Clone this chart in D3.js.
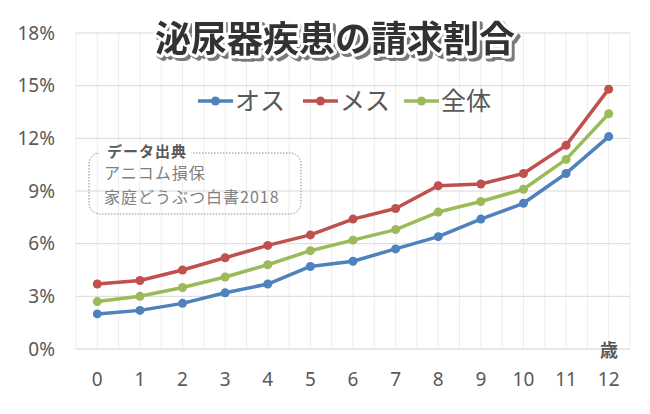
<!DOCTYPE html>
<html><head><meta charset="utf-8">
<script src="https://cdn.jsdelivr.net/npm/d3@7"></script>
<style>body{margin:0;background:#fff}svg{display:block}text{font-family:"Noto Sans CJK JP","Noto Sans",sans-serif}</style>
</head><body>
<svg id="c" width="650" height="414"></svg>
<script>
const ages = ["0","1","2","3","4","5","6","7","8","9","10","11","12"];
const male = [2.0,2.2,2.6,3.2,3.7,4.7,5.0,5.7,6.4,7.4,8.3,10.0,12.1];
const female = [3.7,3.9,4.5,5.2,5.9,6.5,7.4,8.0,9.3,9.4,10.0,11.6,14.8];
const total = [2.7,3.0,3.5,4.1,4.8,5.6,6.2,6.8,7.8,8.4,9.1,10.8,13.4];
const yTicks = [0,3,6,9,12,15,18];
const seriesNames = ["オス","メス","全体"];
const colors = ["#4f81bd","#c0504d","#9bbb59"];

const svg = d3.select("#c");
const defs = svg.append("defs");
const f = defs.append("filter").attr("id", "sh").attr("x", "-5%").attr("y", "-20%").attr("width", "115%").attr("height", "150%");
f.append("feDropShadow").attr("dx", 3).attr("dy", 3).attr("stdDeviation", 0.6)
  .attr("flood-color", "#7a7a7a").attr("flood-opacity", 1);

const L = 76, R = 630, T = 33, B = 349;
const x = d3.scaleBand().domain(ages).range([L, R]);
const y = d3.scaleLinear().domain([0, 18]).range([B, T]);
const step = x.step();

// vertical grid at half steps
const vg = d3.range(0, ages.length * 2 + 1).map(k => L + k * step / 2);
svg.append("g").selectAll("line").data(vg).join("line")
  .attr("x1", d => d).attr("x2", d => d).attr("y1", T).attr("y2", B)
  .attr("stroke", "#ededed").attr("stroke-width", 1);
// horizontal grid
svg.append("g").selectAll("line").data(yTicks).join("line")
  .attr("x1", L).attr("x2", R).attr("y1", d => y(d)).attr("y2", d => y(d))
  .attr("stroke", d => d === 0 ? "#d0d0d0" : "#d9d9d9").attr("stroke-width", 1);

// y axis labels
const ya = svg.append("g").attr("transform", `translate(${L},0)`)
  .call(d3.axisLeft(y).tickValues(yTicks).tickFormat(d => d + "%").tickSize(0).tickPadding(21));
ya.select(".domain").remove();
ya.selectAll("text").attr("font-size", 19).attr("fill", "#595959")
  .style("font-family", "'Noto Sans','DejaVu Sans',sans-serif");

// x axis labels
const xa = svg.append("g").attr("transform", `translate(0,${B})`)
  .call(d3.axisBottom(x).tickSize(0).tickPadding(24));
xa.select(".domain").remove();
xa.selectAll("text").attr("font-size", 19).attr("fill", "#595959")
  .style("font-family", "'Noto Sans','DejaVu Sans',sans-serif");

// unit label
svg.append("text").attr("x", 609).attr("y", 357).attr("text-anchor", "middle")
  .attr("font-size", 18).attr("font-weight", "bold").attr("fill", "#595959").text("歳");

// annotation box
svg.append("rect").attr("x", 89).attr("y", 153).attr("width", 212).attr("height", 61)
  .attr("rx", 11).attr("fill", "none").attr("stroke", "#8c8c8c").attr("stroke-width", 1)
  .attr("stroke-dasharray", "1.5,1.5");
svg.append("rect").attr("x", 99).attr("y", 144).attr("width", 92).attr("height", 16).attr("fill", "#fff");
svg.append("text").attr("x", 107).attr("y", 157).attr("font-size", 15).attr("font-weight", "bold")
  .attr("letter-spacing", 1).attr("fill", "#595959").text("データ出典");
svg.append("text").attr("x", 104).attr("y", 179).attr("font-size", 16).attr("letter-spacing", 1)
  .attr("fill", "#7f7f7f").text("アニコム損保");
svg.append("text").attr("x", 104).attr("y", 203).attr("font-size", 16).attr("letter-spacing", 1)
  .attr("fill", "#7f7f7f").text("家庭どうぶつ白書2018");

// lines
const data = [male, female, total];
const line = d3.line().x((d, i) => x(ages[i]) + step / 2).y(d => y(d));
data.forEach((vals, si) => {
  const g = svg.append("g");
  g.append("path").datum(vals).attr("d", line).attr("fill", "none")
    .attr("stroke", colors[si]).attr("stroke-width", 3.5).attr("stroke-linejoin", "round");
  g.selectAll("circle").data(vals).join("circle")
    .attr("cx", (d, i) => x(ages[i]) + step / 2).attr("cy", d => y(d)).attr("r", 4.5)
    .attr("fill", colors[si]);
});

// legend
const legX = [198, 303, 404];
seriesNames.forEach((n, i) => {
  const g = svg.append("g").attr("transform", `translate(${legX[i]},101)`);
  g.append("line").attr("x1", 0).attr("x2", 35).attr("stroke", colors[i]).attr("stroke-width", 3.5);
  g.append("circle").attr("cx", 17.5).attr("r", 4.5).attr("fill", colors[i]);
  g.append("text").attr("x", 37).attr("y", 9).attr("font-size", 25).attr("fill", "#595959").text(n);
});

// title
const title = "泌尿器疾患の請求割合";
svg.append("text").attr("x", 335).attr("y", 52).attr("text-anchor", "middle")
  .attr("font-size", 36).attr("font-weight", "bold").text(title)
  .attr("fill", "#333").attr("stroke", "#fff").attr("stroke-width", 6)
  .attr("stroke-linejoin", "round").attr("paint-order", "stroke").attr("filter", "url(#sh)");
</script>
</body></html>
